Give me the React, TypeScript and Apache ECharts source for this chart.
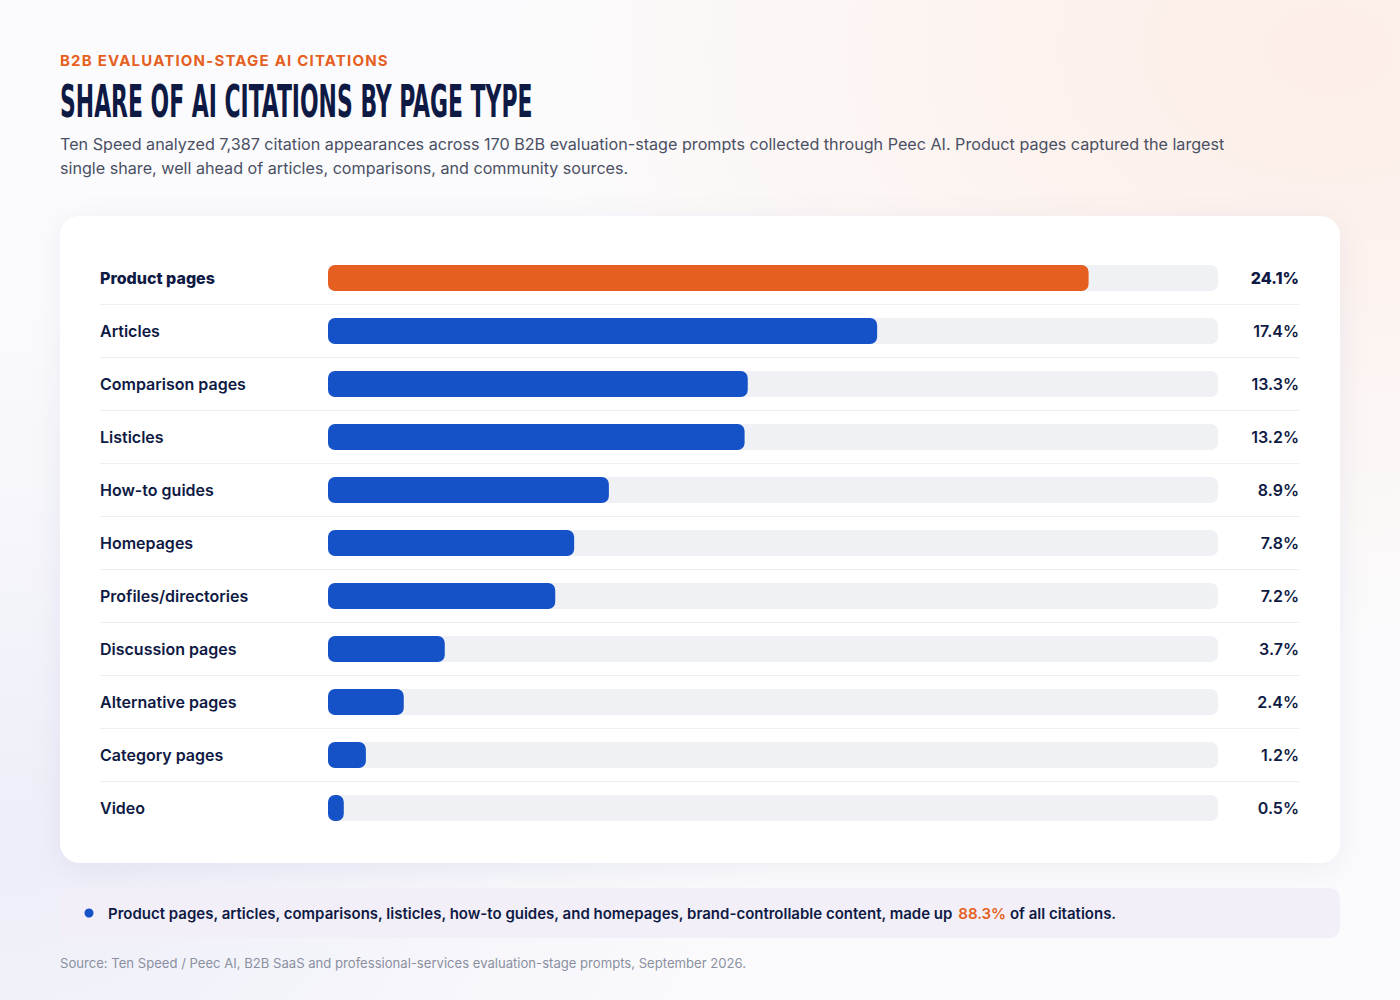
import { useEffect, useRef } from 'react';
import * as echarts from 'echarts';

const categories = [
  'Product pages',
  'Articles',
  'Comparison pages',
  'Listicles',
  'How-to guides',
  'Homepages',
  'Profiles/directories',
  'Discussion pages',
  'Alternative pages',
  'Category pages',
  'Video',
];
const shares = [24.1, 17.4, 13.3, 13.2, 8.9, 7.8, 7.2, 3.7, 2.4, 1.2, 0.5];
const axisMax = 28.2;

const NAVY = '#0f1a44';
const ORANGE = '#e55f21';
const BLUE = '#1552c7';
const FONT = 'Inter, "Noto Sans", sans-serif';
const EYEBROW = 'B2B EVALUATION-STAGE AI CITATIONS';

export default function App() {
  const chartRef = useRef<HTMLDivElement>(null);

  useEffect(() => {
    if (!chartRef.current) return;
    document.body.style.margin = '0';
    const chart = echarts.init(chartRef.current, undefined, { renderer: 'svg' });

    const n = categories.length;
    const valueLabels = shares.map(v => `${v.toFixed(1)}%`);

    chart.setOption({
      animation: false,
      backgroundColor: '#fbfbfd',
      textStyle: { fontFamily: FONT },
      graphic: [
        // soft page tints
        {
          type: 'rect',
          silent: true,
          z: -10,
          shape: { x: 0, y: 0, width: 1400, height: 1000 },
          style: {
            fill: new echarts.graphic.RadialGradient(0.95, 0.05, 0.6, [
              { offset: 0, color: 'rgba(253,236,228,0.9)' },
              { offset: 1, color: 'rgba(253,236,228,0)' },
            ]),
          },
        },
        {
          type: 'rect',
          silent: true,
          z: -10,
          shape: { x: 0, y: 0, width: 1400, height: 1000 },
          style: {
            fill: new echarts.graphic.RadialGradient(0.0, 0.85, 0.55, [
              { offset: 0, color: 'rgba(236,236,248,0.9)' },
              { offset: 1, color: 'rgba(236,236,248,0)' },
            ]),
          },
        },
        // header
        {
          type: 'text',
          left: 60,
          top: 53,
          style: {
            text: EYEBROW,
            fill: ORANGE,
            font: `700 15px ${FONT}`,
          },
        },
        {
          type: 'text',
          x: 60,
          y: 80,
          scaleX: 0.554,
          style: {
            text: 'SHARE OF AI CITATIONS BY PAGE TYPE',
            fill: NAVY,
            font: '900 44px "DejaVu Sans Condensed", "DejaVu Sans", sans-serif',
          },
        },
        {
          type: 'text',
          left: 60,
          top: 132,
          style: {
            text:
              'Ten Speed analyzed 7,387 citation appearances across 170 B2B evaluation-stage prompts collected through Peec AI. Product pages captured the largest\nsingle share, well ahead of articles, comparisons, and community sources.',
            fill: '#4a5063',
            font: `400 16.15px ${FONT}`,
            lineHeight: 24,
          },
        },
        // card
        {
          type: 'rect',
          silent: true,
          z: -5,
          shape: { x: 60, y: 216, width: 1280, height: 647, r: 20 },
          style: {
            fill: '#ffffff',
            shadowBlur: 30,
            shadowColor: 'rgba(30,40,90,0.06)',
            shadowOffsetY: 6,
          },
        },
        // callout
        {
          type: 'rect',
          silent: true,
          z: -5,
          shape: { x: 60, y: 888, width: 1280, height: 50, r: 10 },
          style: { fill: '#f2eff9' },
        },
        {
          type: 'circle',
          silent: true,
          shape: { cx: 89, cy: 913, r: 4.5 },
          style: { fill: BLUE },
        },
        {
          type: 'text',
          left: 108,
          top: 906,
          style: {
            text: '{a|Product pages, articles, comparisons, listicles, how-to guides, and homepages, brand-controllable content, made up }{b|88.3%}{a| of all citations.}',
            rich: {
              a: { fill: NAVY, font: `600 15px ${FONT}` },
              b: { fill: ORANGE, font: `600 15px ${FONT}` },
            },
          },
        },
        {
          type: 'text',
          left: 60,
          top: 956,
          style: {
            text: 'Source: Ten Speed / Peec AI, B2B SaaS and professional-services evaluation-stage prompts, September 2026.',
            fill: '#8b90a0',
            font: `400 13.1px ${FONT}`,
          },
        },
      ],
      grid: [
        { left: 328, right: 182, top: 251.5, height: 53 * n },
        // separator grid spanning label to value columns
        { left: 100, right: 101, top: 251.5 + 53, height: 53 * (n - 2) },
      ],
      xAxis: [
        { gridIndex: 0, type: 'value', min: 0, max: axisMax, show: false },
        { gridIndex: 1, type: 'value', min: 0, max: 1, show: false },
      ],
      yAxis: [
        {
          gridIndex: 0,
          type: 'category',
          inverse: true,
          data: categories,
          axisLine: { show: false },
          axisTick: { show: false },
          axisLabel: {
            align: 'left',
            margin: 228,
            color: NAVY,
            fontFamily: FONT,
            fontSize: 16,
            fontWeight: 600,
            formatter: (v: string) => (v === categories[0] ? `{top|${v}}` : v),
            rich: { top: { color: NAVY, fontFamily: FONT, fontSize: 16, fontWeight: 800 } },
          },
        },
        {
          gridIndex: 0,
          type: 'category',
          inverse: true,
          position: 'right',
          data: valueLabels,
          axisLine: { show: false },
          axisTick: { show: false },
          axisLabel: {
            align: 'right',
            margin: 81,
            color: NAVY,
            fontFamily: FONT,
            fontSize: 16,
            fontWeight: 600,
            formatter: (v: string) => (v === valueLabels[0] ? `{top|${v}}` : v),
            rich: { top: { color: NAVY, fontFamily: FONT, fontSize: 16, fontWeight: 800 } },
          },
        },
        {
          gridIndex: 1,
          type: 'value',
          min: 0,
          max: n - 2,
          interval: 1,
          axisLine: { show: false },
          axisTick: { show: false },
          axisLabel: { show: false },
          splitLine: { show: true, lineStyle: { color: '#eceef3', width: 1 } },
        },
      ],
      series: [
        {
          type: 'bar',
          xAxisIndex: 0,
          yAxisIndex: 0,
          silent: true,
          barWidth: 26,
          barGap: '-100%',
          data: categories.map(() => axisMax),
          itemStyle: { color: '#f0f1f5', borderRadius: 7 },
          z: 1,
        },
        {
          type: 'bar',
          xAxisIndex: 0,
          yAxisIndex: 0,
          barWidth: 26,
          data: shares.map((v, i) => ({
            value: v,
            itemStyle: { color: i === 0 ? ORANGE : BLUE },
          })),
          itemStyle: { borderRadius: 7 },
          z: 2,
        },
      ],
    });

    // zrender has no letter-spacing, so set it on the rendered svg text
    const spaceEyebrow = () => {
      chartRef.current?.querySelectorAll('text').forEach(t => {
        if (t.textContent === EYEBROW) t.setAttribute('letter-spacing', '1.2');
      });
    };
    spaceEyebrow();
    chart.on('finished', spaceEyebrow);

    return () => chart.dispose();
  }, []);

  return (
    <div
      ref={chartRef}
      style={{ position: 'fixed', left: 0, top: 0, width: 1400, height: 1000 }}
    />
  );
}
